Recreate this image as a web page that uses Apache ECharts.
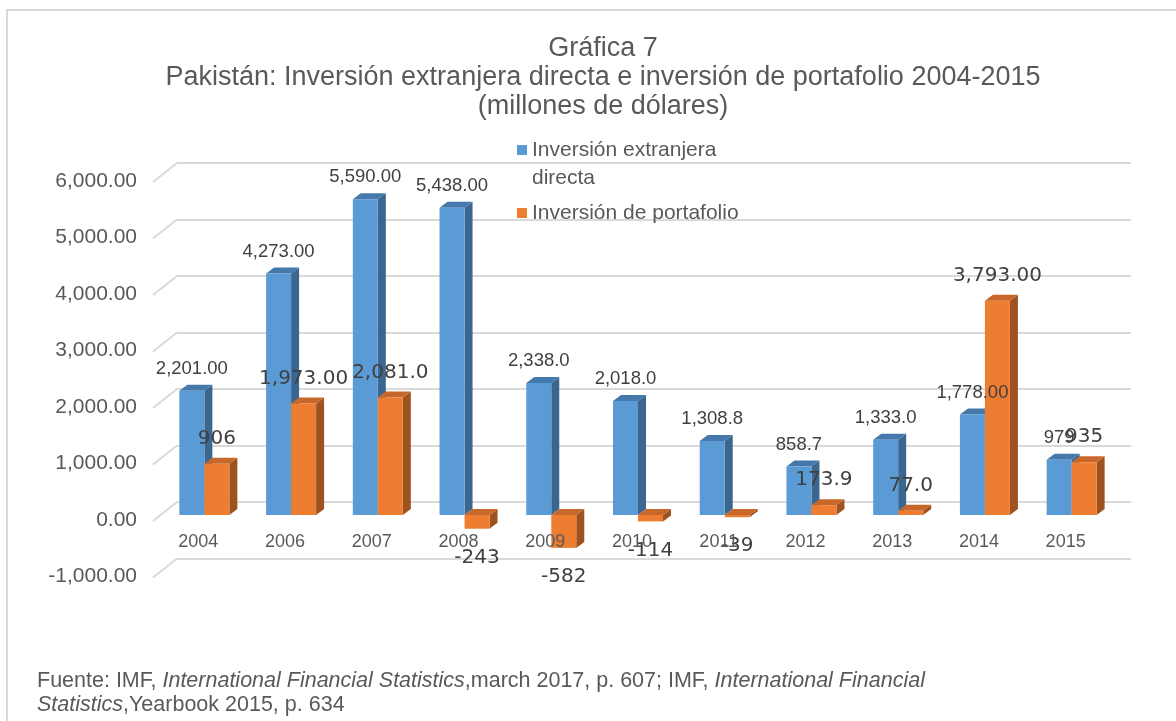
<!DOCTYPE html>
<html>
<head>
<meta charset="utf-8">
<script src="https://cdn.jsdelivr.net/npm/echarts@6/dist/echarts.min.js"></script>
<style>
html, body { margin: 0; padding: 0; background: #fff; }
#chart { width: 1176px; height: 721px; }
</style>
</head>
<body>
<div id="chart"></div>
<script>
const years = ['2004', '2006', '2007', '2008', '2009', '2010', '2011', '2012', '2013', '2014', '2015'];
const fdi = [2201, 4273, 5590, 5438, 2338, 2018, 1308.8, 858.7, 1333, 1778, 979];
const portfolio = [906, 1973, 2081, -243, -582, -114, -39, 173.9, 77, 3793, 935];
const fdiLabels = ['2,201.00', '4,273.00', '5,590.00', '5,438.00', '2,338.0', '2,018.0', '1,308.8', '858.7', '1,333.0', '1,778.00', '979'];
const portfolioLabels = ['906', '1,973.00', '2,081.0', '-243', '-582', '-114', '-39', '173.9', '77.0', '3,793.00', '935'];
const yTicks = [-1000, 0, 1000, 2000, 3000, 4000, 5000, 6000];

// profundidad de la pared del fondo
const DX = 22, DY = -18;
// barras: ancho, profundidad y desplazamiento (a ~0.28 de la profundidad)
const BAR_W = 25, BAR_DX = 8, BAR_DY = -6;
const SHIFT_X = 6, SHIFT_Y = -5;

const FONT = "'Liberation Sans', Arial, sans-serif";

function makeBar(side, colors, labels, labelFont, gapUp, gapDown) {
    return function (params, api) {
        const i = api.value(0);
        const v = api.value(1);
        const base = api.coord([i, 0]);
        const tip = api.coord([i, v]);
        const x0 = base[0] + SHIFT_X + (side === 0 ? -BAR_W : 0);
        const x1 = x0 + BAR_W;
        const yz = base[1] + SHIFT_Y;
        const yv = tip[1] + SHIFT_Y;
        const top = Math.min(yz, yv);
        const bot = Math.max(yz, yv);
        const ly = v >= 0 ? top - gapUp : bot + gapDown;
        return {
            type: 'group',
            children: [
                {
                    type: 'polygon',
                    shape: { points: [[x1, top], [x1 + BAR_DX, top + BAR_DY], [x1 + BAR_DX, bot + BAR_DY], [x1, bot]] },
                    style: { fill: colors.side }
                },
                {
                    type: 'polygon',
                    shape: { points: [[x0, top], [x1, top], [x1 + BAR_DX, top + BAR_DY], [x0 + BAR_DX, top + BAR_DY]] },
                    style: { fill: colors.top }
                },
                {
                    type: 'rect',
                    shape: { x: x0, y: top, width: BAR_W, height: bot - top },
                    style: { fill: colors.front }
                },
                {
                    type: 'text',
                    x: x0 + BAR_W / 2,
                    y: ly,
                    z2: 100,
                    style: {
                        text: labels[params.dataIndex],
                        font: labelFont,
                        fill: '#404040',
                        align: 'center',
                        verticalAlign: 'middle'
                    }
                }
            ]
        };
    };
}

const chart = echarts.init(document.getElementById('chart'));

const option = {
    animation: false,
    backgroundColor: '#fff',
    title: [
        {
            text: 'Gráfica 7\nPakistán: Inversión extranjera directa e inversión de portafolio 2004-2015\n(millones de dólares)',
            left: 598,
            top: 29,
            textAlign: 'center',
            textStyle: {
                fontFamily: FONT,
                fontSize: 27,
                fontWeight: 'normal',
                color: '#595959',
                lineHeight: 29
            }
        },
        {
            text: '{n|Fuente: IMF, }{i|International Financial Statistics}{n|,march 2017, p. 607; IMF, }{i|International Financial}\n{i|Statistics}{n|,Yearbook 2015, p. 634}',
            left: 37,
            top: 669,
            padding: 0,
            textStyle: {
                fontWeight: 'normal',
                rich: {
                    n: { fontFamily: "'Liberation Sans Narrow', " + FONT, fontSize: 21.5, fontWeight: 'normal', color: '#595959', lineHeight: 24 },
                    i: { fontFamily: "'Liberation Sans Narrow', " + FONT, fontSize: 21.5, fontWeight: 'normal', color: '#595959', lineHeight: 24, fontStyle: 'italic' }
                }
            }
        }
    ],
    graphic: [
        {
            type: 'rect',
            shape: { x: 7, y: 10, width: 1300, height: 900 },
            style: { fill: 'none', stroke: '#D9D9D9', lineWidth: 2 },
            silent: true
        }
    ],
    legend: {
        orient: 'vertical',
        left: 517,
        top: 108,
        padding: 0,
        itemGap: 7,
        itemWidth: 10,
        itemHeight: 10,
        icon: 'rect',
        data: ['Inversión extranjera directa', 'Inversión de portafolio'],
        formatter: function (name) {
            return name === 'Inversión extranjera directa' ? '\nInversión extranjera\ndirecta' : name;
        },
        textStyle: { fontFamily: FONT, fontSize: 21, color: '#595959', lineHeight: 28 }
    },
    grid: [
        { left: 155, top: 181, width: 954, height: 395.5 },
        { left: 155 + DX, top: 181 + DY, width: 954, height: 395.5 }
    ],
    xAxis: [
        {
            type: 'category',
            gridIndex: 0,
            data: years,
            position: 'bottom',
            offset: -56.5,
            z: 5,
            axisLine: { show: false, onZero: false },
            axisTick: { show: false },
            axisLabel: { color: '#595959', fontFamily: FONT, fontSize: 18, margin: 13 }
        },
        {
            type: 'category',
            gridIndex: 1,
            data: years,
            show: false
        }
    ],
    yAxis: [
        {
            type: 'value',
            gridIndex: 0,
            min: -1000,
            max: 6000,
            interval: 1000,
            axisLine: { show: false },
            axisTick: { show: false },
            splitLine: { show: false },
            axisLabel: {
                color: '#595959',
                fontFamily: FONT,
                fontSize: 21,
                margin: 18,
                formatter: function (v) {
                    return v.toLocaleString('en-US', { minimumFractionDigits: 2, maximumFractionDigits: 2 });
                }
            }
        },
        {
            type: 'value',
            gridIndex: 1,
            min: -1000,
            max: 6000,
            interval: 1000,
            axisLine: { show: false },
            axisTick: { show: false },
            axisLabel: { show: false },
            splitLine: { lineStyle: { color: '#D9D9D9', width: 2 } }
        }
    ],
    series: [
        {
            // diagonales del piso hacia la pared
            type: 'custom',
            xAxisIndex: 0,
            yAxisIndex: 0,
            silent: true,
            data: yTicks.map(v => [0, v]),
            renderItem: function (params, api) {
                const y = api.coord([0, api.value(1)])[1];
                const x = params.coordSys.x;
                return {
                    type: 'line',
                    shape: { x1: x - 2, y1: y + 1, x2: x + DX, y2: y + DY },
                    style: { stroke: '#D9D9D9', lineWidth: 2 }
                };
            }
        },
        {
            name: 'Inversión extranjera directa',
            type: 'custom',
            xAxisIndex: 0,
            yAxisIndex: 0,
            itemStyle: { color: '#5B9BD5' },
            data: fdi.map((v, i) => [i, v]),
            renderItem: makeBar(0, { front: '#5B9BD5', side: '#3A6690', top: '#4679AB' }, fdiLabels, '18.5px ' + FONT, 22, 22)
        },
        {
            name: 'Inversión de portafolio',
            type: 'custom',
            xAxisIndex: 0,
            yAxisIndex: 0,
            itemStyle: { color: '#ED7D31' },
            data: portfolio.map((v, i) => [i, v]),
            renderItem: makeBar(1, { front: '#ED7D31', side: '#9E5220', top: '#C8672A' }, portfolioLabels, "20px 'DejaVu Sans', sans-serif", 25, 29)
        }
    ]
};

chart.setOption(option);
</script>
</body>
</html>
